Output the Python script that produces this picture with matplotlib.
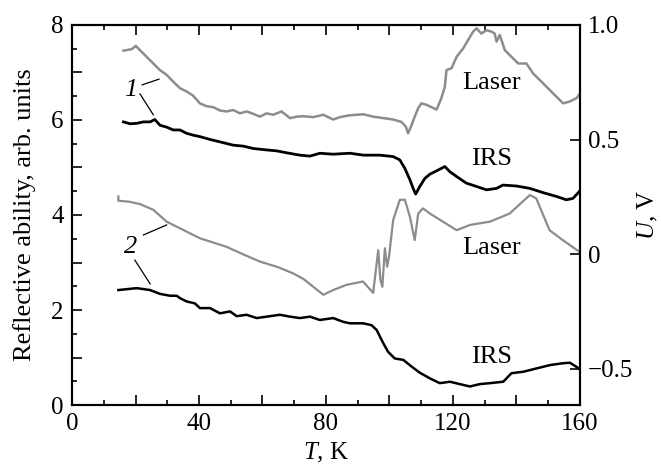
import matplotlib
matplotlib.use("Agg")
import matplotlib.pyplot as plt
from matplotlib.ticker import MultipleLocator, FuncFormatter, FixedLocator

plt.rcParams["font.family"] = ["Liberation Serif", "DejaVu Serif"]
plt.rcParams["mathtext.fontset"] = "custom"
plt.rcParams["mathtext.rm"] = "Liberation Serif"
plt.rcParams["mathtext.it"] = "Liberation Serif:italic"

# sample 1, laser
t_laser1 = [16.2, 18.8, 20.1, 21.4, 23.5, 25.6, 27.7, 29.8, 31.4, 34.0, 36.1, 38.2, 40.3,
            42.4, 44.5, 46.6, 48.7, 50.8, 52.9, 55.0, 57.1, 59.2, 61.3, 63.4, 66.0, 68.7,
            70.8, 72.9, 76.0, 79.2, 82.3, 84.4, 87.6, 91.8, 94.9, 98.1, 101.2, 103.8,
            105.2, 105.9, 107.0, 108.0, 109.1, 110.1, 111.7, 113.3, 114.9, 116.4, 117.5,
            118.0, 119.6, 121.2, 123.3, 124.8, 126.4, 127.5, 129.0, 130.6, 132.2, 133.2,
            133.8, 134.8, 136.4, 138.5, 140.6, 143.2, 145.3, 148.5, 151.6, 154.8, 156.9,
            159.0, 159.8]
r_laser1 = [7.46, 7.49, 7.56, 7.47, 7.33, 7.19, 7.05, 6.95, 6.84, 6.67, 6.60, 6.51, 6.35,
            6.29, 6.27, 6.20, 6.18, 6.21, 6.14, 6.18, 6.13, 6.07, 6.14, 6.11, 6.18, 6.04,
            6.07, 6.08, 6.06, 6.11, 6.01, 6.06, 6.10, 6.12, 6.07, 6.04, 6.01, 5.96,
            5.86, 5.72, 5.89, 6.07, 6.25, 6.35, 6.32, 6.27, 6.22, 6.46, 6.70,
            7.05, 7.09, 7.33, 7.51, 7.68, 7.86, 7.93, 7.82, 7.89, 7.86, 7.82,
            7.65, 7.79, 7.47, 7.33, 7.19, 7.19, 6.98, 6.77, 6.56, 6.35, 6.39,
            6.46, 6.53]

# sample 1, IRS
t_irs1 = [16.2, 18.3, 20.4, 22.5, 24.6, 26.1, 27.7, 29.8, 31.9, 34.0, 36.1, 38.2, 40.3,
          43.5, 46.6, 50.8, 54.0, 57.1, 61.3, 64.5, 67.6, 71.8, 75.0, 78.1, 82.3, 87.6,
          91.8, 97.0, 101.2, 103.3, 104.9, 106.5, 107.5, 108.3, 109.6, 111.2, 112.8,
          114.9, 117.5, 119.1, 121.2, 124.3, 127.5, 130.6, 133.8, 135.8, 140.1, 144.3,
          148.5, 152.7, 155.8, 157.9, 159.8]
r_irs1 = [5.96, 5.92, 5.93, 5.96, 5.96, 6.01, 5.89, 5.85, 5.79, 5.79, 5.72, 5.68, 5.65,
          5.59, 5.54, 5.47, 5.45, 5.40, 5.37, 5.35, 5.31, 5.26, 5.24, 5.30, 5.28, 5.30,
          5.26, 5.26, 5.23, 5.16, 4.98, 4.74, 4.56, 4.44, 4.60, 4.77, 4.86,
          4.93, 5.02, 4.91, 4.81, 4.67, 4.60, 4.53, 4.56, 4.63, 4.61, 4.56,
          4.47, 4.39, 4.32, 4.35, 4.49]

# sample 2, laser
t_laser2 = [14.6, 14.6, 18.0, 21.4, 25.6, 29.8, 34.0, 40.3, 48.7, 54.0, 59.2, 65.0, 69.7,
            73.0, 76.0, 79.2, 82.3, 86.5, 91.7, 94.9, 96.5, 97.2, 97.8, 98.6, 99.3, 99.9,
            101.2, 103.3, 104.9, 106.5, 108.0, 109.1, 110.6, 112.8, 116.9, 121.2, 125.4,
            131.7, 137.9, 144.3, 146.3, 150.5, 154.7, 159.8]
r_laser2 = [4.39, 4.30, 4.28, 4.23, 4.11, 3.86, 3.72, 3.51, 3.33, 3.17, 3.02, 2.90, 2.77,
            2.65, 2.49, 2.32, 2.42, 2.53, 2.60, 2.36, 3.26, 2.63, 2.49, 3.30, 2.91, 3.12,
            3.89, 4.32, 4.32, 3.96, 3.47, 4.03, 4.14, 4.03, 3.86, 3.68, 3.79,
            3.86, 4.03, 4.42, 4.35, 3.68, 3.47, 3.23]

# sample 2, IRS
t_irs2 = [14.6, 20.4, 24.6, 27.7, 30.9, 33.0, 34.0, 36.1, 38.7, 40.3, 43.5, 46.6, 49.8,
          51.9, 55.0, 58.2, 61.3, 65.5, 68.7, 71.8, 75.0, 78.1, 82.3, 85.5, 87.6, 91.8,
          94.4, 96.0, 98.1, 99.6, 101.7, 104.4, 107.0, 109.6, 112.8, 115.9, 119.1, 122.2,
          125.4, 128.5, 131.7, 135.9, 138.5, 142.2, 146.4, 150.6, 154.8, 156.9, 159.8]
r_irs2 = [2.42, 2.46, 2.42, 2.34, 2.30, 2.30, 2.25, 2.18, 2.14, 2.04, 2.04, 1.93, 1.97,
          1.87, 1.90, 1.83, 1.86, 1.90, 1.86, 1.83, 1.86, 1.79, 1.83, 1.75, 1.72, 1.72,
          1.68, 1.58, 1.30, 1.12, 0.98, 0.95, 0.81, 0.68, 0.56, 0.46, 0.49, 0.44,
          0.39, 0.44, 0.46, 0.49, 0.67, 0.70, 0.77, 0.84, 0.88, 0.89, 0.77]

gray = "#8c8c8c"

fig = plt.figure(figsize=(6.61, 4.68), dpi=100)
ax = fig.add_axes([0.109, 0.1346, 0.768, 0.812])

ax.plot(t_laser1, r_laser1, color=gray, lw=1.8)
ax.plot(t_irs1, r_irs1, color="black", lw=2.0)
ax.plot(t_laser2, r_laser2, color=gray, lw=1.6)
ax.plot(t_irs2, r_irs2, color="black", lw=1.8)

ax.set_xlim(0, 160)
ax.set_ylim(0, 8)

ax.xaxis.set_major_locator(MultipleLocator(20))
ax.xaxis.set_minor_locator(MultipleLocator(10))
ax.xaxis.set_major_formatter(FuncFormatter(lambda v, p: f"{v:.0f}" if v % 40 == 0 else ""))
ax.yaxis.set_major_locator(MultipleLocator(1))
ax.yaxis.set_minor_locator(MultipleLocator(0.5))
ax.yaxis.set_major_formatter(FuncFormatter(lambda v, p: f"{v:.0f}" if v % 2 == 0 else ""))

ax.tick_params(which="both", direction="in", top=True, right=False, labelsize=18,
               width=1.2)
ax.tick_params(which="major", length=7, pad=6)
ax.tick_params(which="minor", length=3.5)
for s in ax.spines.values():
    s.set_linewidth(1.5)

ax.set_xlabel("$T$, K", fontsize=18, labelpad=4)
ax.set_ylabel("Reflective ability, arb. units", fontsize=19, labelpad=11)

ax2 = ax.twinx()
ax2.set_ylim(-0.659, 1.0)
ax2.yaxis.set_major_locator(FixedLocator([-0.5, 0, 0.5, 1.0]))
ax2.set_yticklabels(["\u22120.5", "0", "0.5", "1.0"])
ax2.tick_params(direction="in", length=7, width=1.2, labelsize=18, pad=6)
ax2.set_ylabel("$U$, V", fontsize=18, labelpad=2)
for s in ax2.spines.values():
    s.set_linewidth(1.5)

# curve names
ax.text(132.3, 6.78, "Laser", fontsize=19, ha="center", va="center")
ax.text(132.2, 5.17, "IRS", fontsize=19, ha="center", va="center")
ax.text(132.3, 3.31, "Laser", fontsize=19, ha="center", va="center")
ax.text(132.2, 1.02, "IRS", fontsize=19, ha="center", va="center")

# sample numbers with leader lines
ax.text(18.6, 6.63, "1", fontsize=19, style="italic", ha="center", va="center")
ax.plot([22.1, 27.4], [6.74, 6.86], color="black", lw=0.9)
ax.plot([21.4, 25.6], [6.55, 6.11], color="black", lw=0.9)
ax.text(18.6, 3.33, "2", fontsize=19, style="italic", ha="center", va="center")
ax.plot([22.5, 29.8], [3.58, 3.79], color="black", lw=0.9)
ax.plot([19.8, 24.6], [3.05, 2.55], color="black", lw=0.9)

fig.savefig("out.png", dpi=100)
